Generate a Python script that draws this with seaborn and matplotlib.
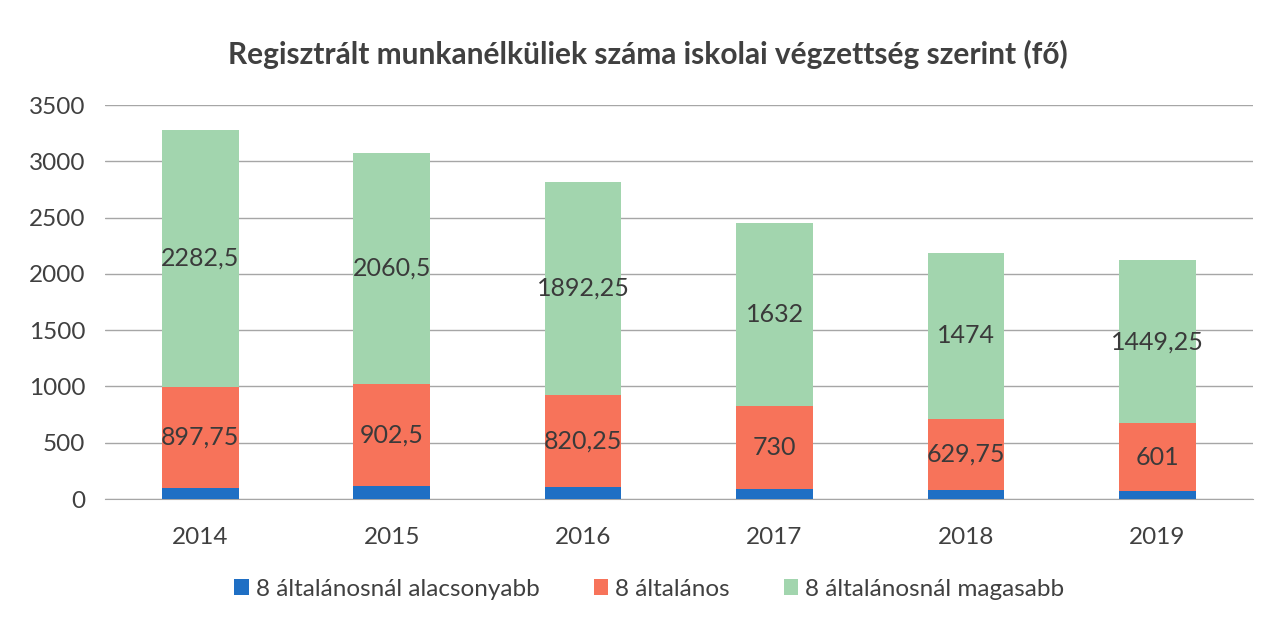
import pandas as pd
import matplotlib.pyplot as plt
import seaborn as sns

years = ["2014", "2015", "2016", "2017", "2018", "2019"]
lower = [100, 115, 105, 92, 84, 72]                       # 8 általánosnál alacsonyabb
primary = [897.75, 902.5, 820.25, 730, 629.75, 601]       # 8 általános
higher = [2282.5, 2060.5, 1892.25, 1632, 1474, 1449.25]   # 8 általánosnál magasabb

series = ["8 általánosnál alacsonyabb", "8 általános", "8 általánosnál magasabb"]
colors = ["#1F6FC4", "#F7735A", "#A2D5AE"]

df = pd.DataFrame({"year": years, series[0]: lower, series[1]: primary, series[2]: higher})

sns.set_style("white")
plt.rcParams["font.family"] = ["Lato", "DejaVu Sans"]

fig = plt.figure(figsize=(12.76, 6.24), dpi=100)
ax = fig.add_axes([0.082, 0.2003, 0.900, 0.6314])

bottom = [0.0] * len(years)
for name, col in zip(series, colors):
    sns.barplot(data=df, x="year", y=name, color=col, width=0.4, bottom=bottom,
                ax=ax, label=name, saturation=1, linewidth=0, zorder=3)
    if name != series[0]:
        for i, v in enumerate(df[name]):
            txt = f"{v:g}".replace(".", ",")
            ax.text(i, bottom[i] + v / 2, txt, ha="center", va="center",
                    fontsize=18, color="#3A3A3A", zorder=4)
    bottom = [b + v for b, v in zip(bottom, df[name])]

handles, labels = ax.get_legend_handles_labels()
if ax.get_legend():
    ax.get_legend().remove()

ax.set_ylim(0, 3500)
ax.set_xlim(-0.5, 5.5)
ax.set_yticks(range(0, 3501, 500))
ax.yaxis.grid(True, color="#A6A6A6", linewidth=1)
ax.set_axisbelow(True)
for s in ["top", "right", "left"]:
    ax.spines[s].set_visible(False)
ax.spines["bottom"].set_color("#A6A6A6")
ax.set_xlabel("")
ax.set_ylabel("")
ax.tick_params(axis="both", labelsize=17.5, colors="#404040", length=0)
ax.tick_params(axis="x", pad=20)
ax.tick_params(axis="y", pad=14)

# title sits a bit left of the axes centre in the original
fig.text(0.508, 0.912, "Regisztrált munkanélküliek száma iskolai végzettség szerint (fő)",
         ha="center", va="center", fontsize=21.5, fontweight="bold", color="#404040")

fig.legend(handles, labels, loc="center", bbox_to_anchor=(0.509, 0.056), ncol=3,
           frameon=False, fontsize=17.5, handlelength=0.6, handleheight=0.6,
           columnspacing=2.2, handletextpad=0.3, labelcolor="#404040")

fig.savefig("out.png", dpi=100)
